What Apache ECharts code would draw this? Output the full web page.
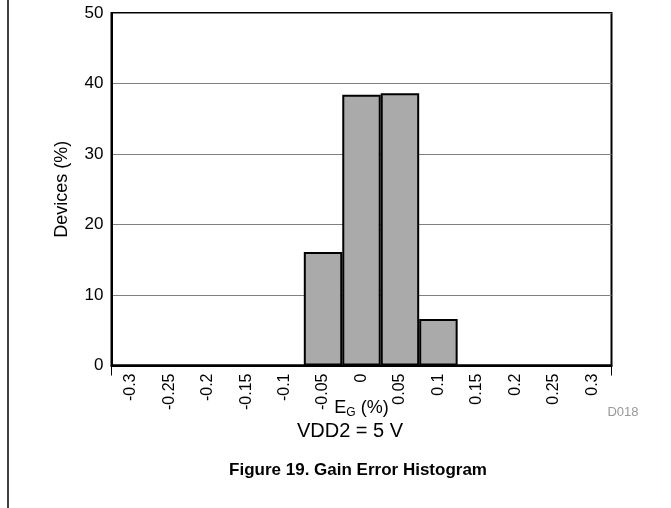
<!DOCTYPE html>
<html>
<head>
<meta charset="utf-8">
<title>Gain Error Histogram</title>
<script src="https://cdn.jsdelivr.net/npm/echarts@6/dist/echarts.min.js"></script>
<style>
  html, body { margin: 0; padding: 0; background: #fff; }
  #chart { width: 671px; height: 508px; }
</style>
</head>
<body>
<div id="chart"></div>
<script>
// gain error bins (%), one bar per bin
const categories = ['-0.3', '-0.25', '-0.2', '-0.15', '-0.1', '-0.05', '0', '0.05', '0.1', '0.15', '0.2', '0.25', '0.3'];
// share of devices in each bin (%)
const devices = [0, 0, 0, 0, 0, 16.1, 38.4, 38.6, 6.6, 0, 0, 0, 0];
const yTicks = [0, 10, 20, 30, 40, 50];

const font = 'Liberation Sans, Arial, sans-serif';

const chart = echarts.init(document.getElementById('chart'));

const option = {
  animation: false,
  grid: {
    left: 111.5,
    right: 59.5,
    top: 13,
    bottom: 142.5,
    show: true,
    borderColor: '#000',
    borderWidth: 2,
    backgroundColor: 'transparent'
  },
  xAxis: {
    type: 'category',
    data: categories,
    boundaryGap: true,
    name: 'E{sub|G} (%)',
    nameLocation: 'middle',
    nameGap: 32,
    nameMoveOverlap: false,
    nameTextStyle: {
      color: '#000',
      fontFamily: font,
      fontSize: 18,
      rich: {
        sub: { fontFamily: font, fontSize: 12, verticalAlign: 'bottom', padding: [9, 0, 0, 0] }
      }
    },
    axisLine: { show: true, lineStyle: { color: '#000', width: 2 } },
    // only the two end ticks are drawn
    axisTick: {
      show: true,
      interval: (index) => index === 0,
      length: 10,
      lineStyle: { color: '#000', width: 1 }
    },
    axisLabel: {
      rotate: 90,
      interval: 0,
      margin: 8,
      color: '#000',
      fontFamily: font,
      fontSize: 16
    },
    splitLine: { show: false }
  },
  yAxis: {
    type: 'value',
    min: yTicks[0],
    max: yTicks[yTicks.length - 1],
    interval: 10,
    name: 'Devices (%)',
    nameLocation: 'middle',
    nameGap: 40,
    nameRotate: 90,
    nameTextStyle: { color: '#000', fontFamily: font, fontSize: 18 },
    axisLine: { show: true, lineStyle: { color: '#000', width: 2 } },
    axisTick: { show: false },
    axisLabel: {
      margin: 8,
      color: '#000',
      fontFamily: font,
      fontSize: 17
    },
    splitLine: { show: true, lineStyle: { color: '#808080', width: 1 } }
  },
  series: [
    {
      type: 'bar',
      data: devices,
      barWidth: '100%',
      barCategoryGap: 0,
      itemStyle: {
        color: '#aaaaaa',
        borderColor: '#000',
        borderWidth: 2
      }
    }
  ],
  graphic: [
    {
      type: 'line',
      shape: { x1: 8, y1: 0, x2: 8, y2: 508 },
      style: { stroke: '#000', lineWidth: 1.5 }
    },
    {
      type: 'text',
      x: 623,
      y: 412,
      style: {
        text: 'D018',
        fill: '#999',
        font: '13px ' + font,
        textAlign: 'center',
        textVerticalAlign: 'middle'
      }
    },
    {
      type: 'text',
      x: 350,
      y: 431,
      style: {
        text: 'VDD2 = 5 V',
        fill: '#000',
        font: '20px ' + font,
        textAlign: 'center',
        textVerticalAlign: 'middle'
      }
    },
    {
      type: 'text',
      x: 358,
      y: 470,
      style: {
        text: 'Figure 19. Gain Error Histogram',
        fill: '#000',
        font: 'bold 17px ' + font,
        textAlign: 'center',
        textVerticalAlign: 'middle'
      }
    }
  ]
};

chart.setOption(option);
</script>
</body>
</html>
